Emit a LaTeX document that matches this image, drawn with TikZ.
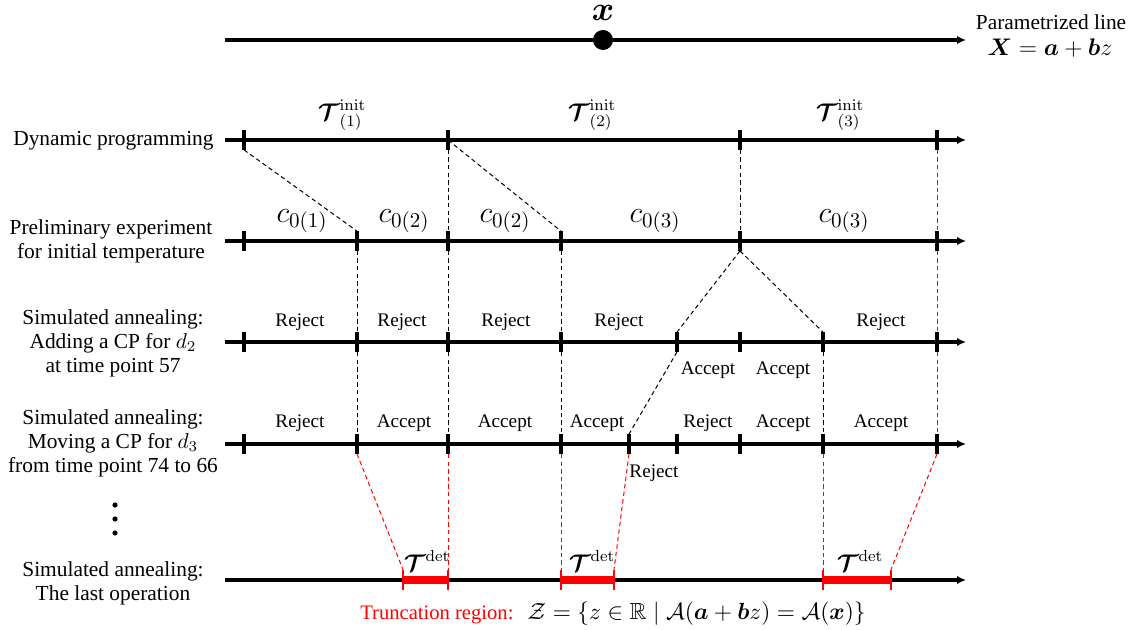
\RequirePackage{fix-cm}
\documentclass[tikz,border=0pt]{standalone}
\usepackage{amsmath,amssymb}
\usepackage[no-math]{fontspec}
\setmainfont{Liberation Serif}
\usetikzlibrary{arrows.meta}
\begin{document}
\begin{tikzpicture}[x=0.5pt,y=-0.5pt,
  axis/.style={line width=1.7pt,-{Latex[length=4.5pt,width=4.2pt]}},
  tk/.style={inner sep=0pt,minimum width=0pt,minimum height=9.5pt},
  tkline/.style={line width=1.6pt},
  rtk/.style={inner sep=0pt,minimum width=0pt,minimum height=10pt},
  rtkline/.style={line width=1.2pt,red},
  conn/.style={line width=0.5pt,dash pattern=on 2.2pt off 1.6pt},
  rconn/.style={conn,red},
  gconn/.style={conn,black!70},
  rowlab/.style={font=\fontsize{10.7}{12}\selectfont,align=center},
  dec/.style={font=\fontsize{9.6}{11}\selectfont,inner sep=1pt},
  cl/.style={font=\fontsize{15}{18}\selectfont,inner sep=0pt},
  tl/.style={font=\fontsize{12}{14}\selectfont,inner sep=0pt},
]
\useasboundingbox (0,0) rectangle (1133,630);

% top parametrized line
\coordinate (ts) at (225,40);
\coordinate (te) at (966,40);
\draw[axis] (ts) -- (te);
\node[circle,fill,inner sep=0pt,minimum size=10pt] (xdot) at (603,40) {};
\node[font=\fontsize{17}{20}\selectfont,inner sep=0pt] (xlab) at (603,13) {$\boldsymbol{x}$};
\node[rowlab,inner sep=0pt] (plab) at (1051,22) {Parametrized line};
\node[font=\fontsize{12}{14}\selectfont,inner sep=0pt] (Xlab) at (1050,48) {$\boldsymbol{X}=\boldsymbol{a}+\boldsymbol{b}z$};

% row axes
\foreach \r/\y in {1/140,2/241,3/342,4/444,5/580} {
  \coordinate (s\r) at (225,\y);
  \coordinate (e\r) at (966,\y);
  \draw[axis] (s\r) -- (e\r);
}

% ticks
\foreach \n/\x in {a/244,b/448,c/740,d/937}
  {\node[tk] (r1\n) at (\x,140) {}; \draw[tkline] (r1\n.north) -- (r1\n.south);}
\foreach \n/\x in {a/244,b/357,c/448,d/561,e/740,f/937}
  {\node[tk] (r2\n) at (\x,241) {}; \draw[tkline] (r2\n.north) -- (r2\n.south);}
\foreach \n/\x in {a/244,b/357,c/448,d/561,e/677,f/740,g/823,h/937}
  {\node[tk] (r3\n) at (\x,342) {}; \draw[tkline] (r3\n.north) -- (r3\n.south);}
\foreach \n/\x in {a/244,b/357,c/448,d/561,e/629,f/677,g/740,h/823,i/937}
  {\node[tk] (r4\n) at (\x,444) {}; \draw[tkline] (r4\n.north) -- (r4\n.south);}
\foreach \n/\x in {a/403,b/448,c/561,d/614,e/823,f/891}
  {\node[rtk] (r5\n) at (\x,580) {};}

% red detected intervals
\draw[red,line width=3.6pt] (r5a.center) -- (r5b.center);
\draw[red,line width=3.6pt] (r5c.center) -- (r5d.center);
\draw[red,line width=3.6pt] (r5e.center) -- (r5f.center);
\foreach \n in {a,b,c,d,e,f} {\draw[rtkline] (r5\n.north) -- (r5\n.south);}

% connectors row1 -> row2
\draw[conn] (r1a.south) -- (r2b.north);
\draw[conn] (r1b.south) -- (r2c.north);
\draw[conn] (r1b.center) -- (r2d.north);
\draw[conn] (r1c.south) -- (r2e.north);
\draw[gconn] (r1d.south) -- (r2f.north);
% row2 -> row3
\draw[conn] (r2b.south) -- (r3b.north);
\draw[conn] (r2c.south) -- (r3c.north);
\draw[conn] (r2d.south) -- (r3d.north);
\draw[conn] (r2e.south) -- (r3e.north);
\draw[conn] (r2e.south) -- (r3g.north);
\draw[gconn] (r2f.south) -- (r3h.north);
% row3 -> row4
\draw[conn] (r3b.south) -- (r4b.north);
\draw[conn] (r3c.south) -- (r4c.north);
\draw[conn] (r3d.south) -- (r4d.north);
\draw[conn] (r3e.south) -- (r4e.north);
\draw[conn] (r3g.south) -- (r4h.north);
\draw[gconn] (r3h.south) -- (r4i.north);
% row4 -> row5 (red)
\draw[rconn] (r4b.south) -- (r5a.north);
\draw[rconn] (r4c.south) -- (r5b.north);
\draw[rconn] (r4d.south) -- (r5c.north);
\draw[rconn] (r4e.south) -- (r5d.north);
\draw[rconn] (r4h.south) -- (r5e.north);
\draw[rconn] (r4i.south) -- (r5f.north);

% row labels
\node[rowlab,anchor=east,inner sep=0pt] (l1) at (214,141) {Dynamic programming};
\node[rowlab,inner sep=0pt] (l2) at (111,241) {Preliminary experiment\\for initial temperature};
\node[rowlab,inner sep=0pt] (l3) at (113,343) {Simulated annealing:\\Adding a CP for $d_2$\\at time point 57};
\node[rowlab,inner sep=0pt] (l4) at (113,443) {Simulated annealing:\\Moving a CP for $d_3$\\from time point 74 to 66};
\node[rowlab,inner sep=0pt] (l5) at (113,583) {Simulated annealing:\\The last operation};

% vertical dots
\fill (115,505) circle[radius=1.3pt];
\fill (115,519) circle[radius=1.3pt];
\fill (115,533) circle[radius=1.3pt];

% initial segment labels
\node[tl] (t1) at (342,115) {$\boldsymbol{\mathcal{T}}^{\mathrm{init}}_{(1)}$};
\node[tl] (t2) at (592,115) {$\boldsymbol{\mathcal{T}}^{\mathrm{init}}_{(2)}$};
\node[tl] (t3) at (840,115) {$\boldsymbol{\mathcal{T}}^{\mathrm{init}}_{(3)}$};

% temperature labels
\node[cl] (c1) at (302,221) {$c_{0(1)}$};
\node[cl] (c2) at (404,221) {$c_{0(2)}$};
\node[cl] (c3) at (505,221) {$c_{0(2)}$};
\node[cl] (c4) at (655,221) {$c_{0(3)}$};
\node[cl] (c5) at (844,221) {$c_{0(3)}$};

% decisions row 3
\node[dec] (d31) at (300,322) {Reject};
\node[dec] (d32) at (402,322) {Reject};
\node[dec] (d33) at (506,322) {Reject};
\node[dec] (d34) at (619,322) {Reject};
\node[dec] (d35) at (881,322) {Reject};
\node[dec] (d36) at (708,370) {Accept};
\node[dec] (d37) at (783,370) {Accept};
% decisions row 4
\node[dec] (d41) at (300,423) {Reject};
\node[dec] (d42) at (404,423) {Accept};
\node[dec] (d43) at (505,423) {Accept};
\node[dec] (d44) at (597,423) {Accept};
\node[dec] (d45) at (708,423) {Reject};
\node[dec] (d46) at (783,423) {Accept};
\node[dec] (d47) at (881,423) {Accept};
\node[dec] (d48) at (654,473) {Reject};

% detected labels
\node[tl] (td1) at (427,561) {$\boldsymbol{\mathcal{T}}^{\mathrm{det}}$};
\node[tl] (td2) at (592,561) {$\boldsymbol{\mathcal{T}}^{\mathrm{det}}$};
\node[tl] (td3) at (860,561) {$\boldsymbol{\mathcal{T}}^{\mathrm{det}}$};

% truncation region
\node[font=\fontsize{10.3}{12}\selectfont,inner sep=0pt] (trunc) at (613,614)
  {\textcolor{red}{Truncation region:}\hspace{7pt}{\fontsize{11.7}{14}\selectfont$\mathcal{Z}=\{z\in\mathbb{R}\mid\mathcal{A}(\boldsymbol{a}+\boldsymbol{b}z)=\mathcal{A}(\boldsymbol{x})\}$}};
\end{tikzpicture}
\end{document}
